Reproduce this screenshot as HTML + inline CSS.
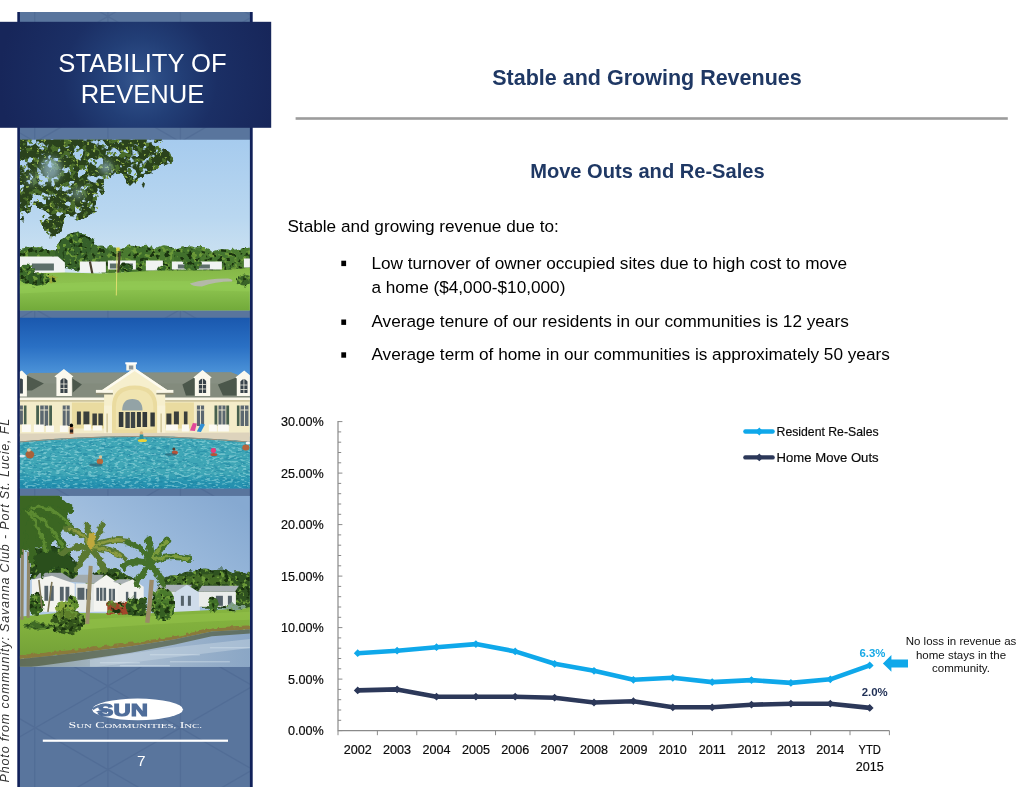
<!DOCTYPE html>
<html lang="en">
<head>
<meta charset="utf-8">
<title>Stability of Revenue</title>
<style>
html,body{margin:0;padding:0;background:#fff;}
body{width:1034px;height:799px;overflow:hidden;font-family:"Liberation Sans",Arial,sans-serif;}
svg{display:block;}
text{font-family:"Liberation Sans",Arial,sans-serif;}
.cal{font-family:"Liberation Sans",Arial,sans-serif;font-size:12.6px;fill:#0a0a0a;stroke:#0a0a0a;stroke-width:0.18px;}
</style>
</head>
<body>
<svg id="slide" width="1034" height="799" viewBox="0 0 1034 799">
<defs>
  <radialGradient id="banner" gradientUnits="userSpaceOnUse" cx="140" cy="80" r="140">
    <stop offset="0" stop-color="#38598f"/>
    <stop offset="0.12" stop-color="#2c4c85"/>
    <stop offset="0.3" stop-color="#223e76"/>
    <stop offset="0.55" stop-color="#1b2f65"/>
    <stop offset="1" stop-color="#17265a"/>
  </radialGradient>
  
  <linearGradient id="sky1" x1="0" y1="0" x2="0" y2="1">
    <stop offset="0" stop-color="#a6cbee"/><stop offset="0.45" stop-color="#b9d7f0"/><stop offset="0.75" stop-color="#cfe3f1"/><stop offset="1" stop-color="#cfe3f1"/>
  </linearGradient>
  <linearGradient id="grass1" x1="0" y1="0" x2="0" y2="171" gradientUnits="userSpaceOnUse">
    <stop offset="0.76" stop-color="#86b848"/><stop offset="0.86" stop-color="#8ec450"/><stop offset="1" stop-color="#72aa3a"/>
  </linearGradient>
  <filter id="rough1" x="-10%" y="-10%" width="120%" height="120%">
    <feTurbulence type="fractalNoise" baseFrequency="0.09" numOctaves="3" seed="4" result="n"/>
    <feDisplacementMap in="SourceGraphic" in2="n" scale="16" xChannelSelector="R" yChannelSelector="G"/>
  </filter>
  <filter id="rough2" x="-10%" y="-10%" width="120%" height="120%">
    <feTurbulence type="fractalNoise" baseFrequency="0.18" numOctaves="2" seed="9" result="n"/>
    <feDisplacementMap in="SourceGraphic" in2="n" scale="6" xChannelSelector="R" yChannelSelector="G"/>
  </filter>

  <filter id="leafA" x="-10%" y="-10%" width="120%" height="120%">
    <feTurbulence type="fractalNoise" baseFrequency="0.09" numOctaves="3" seed="4" result="n"/>
    <feDisplacementMap in="SourceGraphic" in2="n" scale="16" xChannelSelector="R" yChannelSelector="G" result="d"/>
    <feTurbulence type="fractalNoise" baseFrequency="0.11" numOctaves="3" seed="11" result="m"/>
    <feColorMatrix in="m" type="matrix" values="0 0 0 0 0  0 0 0 0 0  0 0 0 0 0  14 0 0 0 -5.3" result="mask"/>
    <feComposite in="d" in2="mask" operator="in"/>
  </filter>
  <filter id="leafB" x="-10%" y="-10%" width="120%" height="120%">
    <feTurbulence type="fractalNoise" baseFrequency="0.09" numOctaves="3" seed="4" result="n"/>
    <feDisplacementMap in="SourceGraphic" in2="n" scale="16" xChannelSelector="R" yChannelSelector="G" result="d"/>
    <feTurbulence type="fractalNoise" baseFrequency="0.16" numOctaves="3" seed="23" result="m"/>
    <feColorMatrix in="m" type="matrix" values="0 0 0 0 0  0 0 0 0 0  0 0 0 0 0  0 12 0 0 -6.9" result="mask"/>
    <feComposite in="d" in2="mask" operator="in"/>
  </filter>
  <filter id="leafC" x="-10%" y="-10%" width="120%" height="120%">
    <feTurbulence type="fractalNoise" baseFrequency="0.09" numOctaves="3" seed="4" result="n"/>
    <feDisplacementMap in="SourceGraphic" in2="n" scale="16" xChannelSelector="R" yChannelSelector="G" result="d"/>
    <feTurbulence type="fractalNoise" baseFrequency="0.3" numOctaves="2" seed="37" result="m"/>
    <feColorMatrix in="m" type="matrix" values="0 0 0 0 0  0 0 0 0 0  0 0 0 0 0  0 0 14 0 -9.2" result="mask"/>
    <feComposite in="d" in2="mask" operator="in"/>
  </filter>

  <linearGradient id="sky2" x1="0" y1="0" x2="0" y2="1">
    <stop offset="0" stop-color="#1a58ae"/><stop offset="0.17" stop-color="#2a70c4"/><stop offset="0.34" stop-color="#4f96da"/><stop offset="1" stop-color="#549bdc"/>
  </linearGradient>
  <linearGradient id="pool2" x1="0" y1="0" x2="0" y2="1">
    <stop offset="0.69" stop-color="#3fa6b6"/><stop offset="0.8" stop-color="#2b98b2"/><stop offset="1" stop-color="#1f89ad"/>
  </linearGradient>
  <filter id="ripple" x="0" y="0" width="100%" height="100%">
    <feTurbulence type="fractalNoise" baseFrequency="0.22 0.5" numOctaves="2" seed="5" result="m"/>
    <feColorMatrix in="m" type="matrix" values="0 0 0 0 0  0 0 0 0 0  0 0 0 0 0  7 0 0 0 -3.7" result="mask"/>
    <feComposite in="SourceGraphic" in2="mask" operator="in"/>
  </filter>

  <linearGradient id="sky3" x1="0.9" y1="0" x2="0.3" y2="0.6">
    <stop offset="0" stop-color="#86a9d1"/><stop offset="0.5" stop-color="#9bbadc"/><stop offset="1" stop-color="#b3cbe4"/>
  </linearGradient>
  <linearGradient id="lawn3" x1="0" y1="112" x2="0" y2="160" gradientUnits="userSpaceOnUse">
    <stop offset="0" stop-color="#86b440"/><stop offset="0.5" stop-color="#7fae3c"/><stop offset="1" stop-color="#74a238"/>
  </linearGradient>
  <linearGradient id="water3" x1="0" y1="0" x2="1" y2="0">
    <stop offset="0" stop-color="#8a9a98"/><stop offset="0.45" stop-color="#aabdd0"/><stop offset="1" stop-color="#8aa6c5"/>
  </linearGradient>
  <filter id="blur3" x="-50%" y="-50%" width="200%" height="200%"><feGaussianBlur stdDeviation="3.5"/></filter>
  <mask id="folmask" maskUnits="userSpaceOnUse" x="-10" y="-10" width="250" height="190">
    <rect x="-10" y="-10" width="250" height="190" fill="#fff"/>
    <g filter="url(#blur3)" fill="#000">
      <ellipse cx="31" cy="30" rx="10" ry="12" opacity="0.6"/>
      <ellipse cx="86" cy="28" rx="5" ry="6" opacity="0.75"/>
      <ellipse cx="58" cy="54" rx="6" ry="5" opacity="0.5"/>
      <ellipse cx="12" cy="40" rx="4" ry="6" opacity="0.4"/>
    </g>
  </mask>
  <filter id="treeTex" x="-10%" y="-10%" width="120%" height="120%" color-interpolation-filters="sRGB">
    <feTurbulence type="fractalNoise" baseFrequency="0.18" numOctaves="2" seed="9" result="n"/>
    <feDisplacementMap in="SourceGraphic" in2="n" scale="6" xChannelSelector="R" yChannelSelector="G" result="d"/>
    <feTurbulence type="fractalNoise" baseFrequency="0.22" numOctaves="2" seed="3" result="m"/>
    <feColorMatrix in="m" type="matrix" values="0 0 0 0 0.42  0 0 0 0 0.60  0 0 0 0 0.22  10 0 0 0 -5.5" result="light"/>
    <feComposite in="light" in2="d" operator="in" result="l2"/>
    <feColorMatrix in="m" type="matrix" values="0 0 0 0 0.1  0 0 0 0 0.2  0 0 0 0 0.06  0 10 0 0 -5.7" result="dark"/>
    <feComposite in="dark" in2="d" operator="in" result="d2"/>
    <feMerge><feMergeNode in="d"/><feMergeNode in="l2"/><feMergeNode in="d2"/></feMerge>
  </filter>
  <filter id="ripple2" x="0" y="0" width="100%" height="100%">
    <feTurbulence type="fractalNoise" baseFrequency="0.16 0.42" numOctaves="2" seed="17" result="m"/>
    <feColorMatrix in="m" type="matrix" values="0 0 0 0 0  0 0 0 0 0  0 0 0 0 0  0 7 0 0 -3.7" result="mask"/>
    <feComposite in="SourceGraphic" in2="mask" operator="in"/>
  </filter>
  <clipPath id="cp1"><rect x="0" y="0" width="230" height="171"/></clipPath>
</defs>
<rect x="0" y="0" width="1034" height="799" fill="#ffffff"/>

<!-- ===== SIDEBAR ===== -->
<g id="sidebar">
  <rect x="17.3" y="12" width="235.4" height="775" fill="#11215a"/>
  <rect x="19.9" y="12" width="230" height="775" fill="#59759d"/>
  <!-- PATTERN -->
  <clipPath id="cps"><rect x="19.9" y="12" width="230" height="775"/></clipPath>
  <path d="M19.9 -201.8L249.9 -69.0M19.9 -100.2L249.9 -233.0M19.9 -118.1L249.9 14.7M19.9 -16.5L249.9 -149.3M19.9 -34.4L249.9 98.4M19.9 67.2L249.9 -65.6M19.9 49.3L249.9 182.1M19.9 150.9L249.9 18.1M19.9 133.0L249.9 265.8M19.9 234.6L249.9 101.8M19.9 216.7L249.9 349.5M19.9 318.3L249.9 185.5M19.9 300.4L249.9 433.2M19.9 402.0L249.9 269.2M19.9 384.1L249.9 516.9M19.9 485.7L249.9 352.9M19.9 467.8L249.9 600.6M19.9 569.4L249.9 436.6M19.9 551.5L249.9 684.3M19.9 653.1L249.9 520.3M19.9 635.2L249.9 768.0M19.9 736.8L249.9 604.0M19.9 718.9L249.9 851.7M19.9 820.5L249.9 687.7M19.9 802.6L249.9 935.4M19.9 904.2L249.9 771.4M19.9 886.3L249.9 1019.1M19.9 987.9L249.9 855.1M19.9 970.0L249.9 1102.8M19.9 1071.6L249.9 938.8M34.7 12V787M107.9 12V787M180.4 12V787" fill="none" stroke="#2d4778" stroke-opacity="0.17" stroke-width="1.3" clip-path="url(#cps)"/>
  <!-- PHOTO1 -->
  <g id="photo1" transform="translate(19.9 139.5)" clip-path="url(#cp1)">
    <rect width="230" height="171" fill="url(#sky1)"/>
    <!-- far tree line -->
    <g filter="url(#treeTex)">
      <path d="M-5 112 Q10 104 30 110 L40 112 L40 134 L-5 134Z" fill="#3f6b2c"/>
      <path d="M80 134 L80 112 Q92 104 100 110 Q108 103 118 108 Q128 104 136 109 Q145 104 154 110 Q165 104 175 108 Q186 106 192 112 Q202 108 212 111 Q222 108 236 108 L236 134Z" fill="#4a7a30"/>
      <ellipse cx="57" cy="112" rx="21" ry="19" fill="#36602a"/>
      <ellipse cx="80" cy="118" rx="12" ry="12" fill="#3f6a2e"/>
      <ellipse cx="168" cy="118" rx="14" ry="10" fill="#41702c"/>
      <ellipse cx="122" cy="117" rx="10" ry="9" fill="#3f6e2b"/>
      <ellipse cx="198" cy="119" rx="9" ry="8" fill="#447430"/>
    </g>
    <!-- houses -->
    <g fill="#f1f3f2">
      <path d="M0 117 L38 117 L45 123 L45 134 L0 134Z"/>
      <rect x="60" y="122" width="26" height="11"/>
      <rect x="88" y="121" width="28" height="9"/>
      <rect x="126" y="121" width="17" height="10"/>
      <rect x="152" y="122" width="50" height="8"/>
      <rect x="224" y="119" width="8" height="9"/>
    </g>
    <g fill="#5d6f6a">
      <rect x="12" y="124" width="22" height="7"/>
      <rect x="90" y="124" width="8" height="5"/>
      <rect x="104" y="124" width="9" height="5"/>
      <rect x="158" y="125" width="8" height="4"/>
      <rect x="176" y="125" width="14" height="4"/>
    </g>
    <!-- mid trees in front of houses -->
    <g filter="url(#treeTex)">
      <ellipse cx="106" cy="128" rx="8" ry="5" fill="#2f5a26"/>
      <ellipse cx="143" cy="130" rx="6" ry="4" fill="#356428"/>
      <ellipse cx="172" cy="124" rx="9" ry="7" fill="#3d6d2c"/>
      <ellipse cx="214" cy="131" rx="6" ry="4" fill="#2f5a26"/>
    </g>
    <path d="M70 122 L73 137 M100 112 L98 136" stroke="#4a4030" stroke-width="2.2" fill="none"/>
    <!-- grass -->
    <path d="M-2 134 L45 133 L80 134 L140 131 L200 131 L232 128 L232 173 L-2 173Z" fill="url(#grass1)"/>
    <path d="M-2 146 Q110 139 232 143 L232 152 Q110 148 -2 154Z" fill="#93cc55" opacity="0.55"/>
    <path d="M170 144 Q186 139 208 139 Q214 140 212 142 Q195 142 182 147 Q172 147 170 144Z" fill="#b4b9a8"/>
    <!-- bushes -->
    <g filter="url(#treeTex)">
      <ellipse cx="6" cy="134" rx="8" ry="10" fill="#3b6a2a"/>
      <ellipse cx="18" cy="140" rx="11" ry="7" fill="#2f5a24"/>
      <ellipse cx="33" cy="139" rx="5" ry="4" fill="#9aa93a"/>
      <ellipse cx="224" cy="141" rx="8" ry="6" fill="#3a6428"/>
    </g>
    <path d="M97.2 110 L96.4 156" stroke="#e8e272" stroke-width="0.9"/>
    <rect x="96.4" y="108" width="3.4" height="3.4" fill="#d6cf3a"/>
    <!-- big foliage -->
    <g mask="url(#folmask)">
    <path id="fol1" d="M-6 -6 L138 -6 L152 20 L150 25 L138 31 L128 33 L119 47 L108 47 L103 36 L92 34 L84 46 L77 57 L77 69 L66 81 L46 79 L38 92 L33 98 L25 92 L21 69 L13 68 L4 78 L-6 77Z" fill="#2a421d" filter="url(#leafA)"/>
    <path d="M-6 -6 L138 -6 L152 20 L150 25 L138 31 L128 33 L119 47 L108 47 L103 36 L92 34 L84 46 L77 57 L77 69 L66 81 L46 79 L38 92 L33 98 L25 92 L21 69 L13 68 L4 78 L-6 77Z" fill="#4a6c2a" filter="url(#leafB)"/>
    <path d="M-6 -6 L138 -6 L152 20 L150 25 L138 31 L128 33 L119 47 L108 47 L103 36 L92 34 L84 46 L77 57 L77 69 L66 81 L46 79 L38 92 L33 98 L25 92 L21 69 L13 68 L4 78 L-6 77Z" fill="#86a542" filter="url(#leafC)"/>
    </g>
</g>
  <!-- /PHOTO1 -->
  <!-- PHOTO2 -->
  <g id="photo2" transform="translate(19.9 317.5)" clip-path="url(#cp1)">
    <rect width="230" height="171" fill="url(#sky2)"/>
    <!-- roof -->
    <path d="M-2 63 L10 55.5 L95 55 L134 55 L211 54.8 L232 63 L232 82 L-2 82Z" fill="#838b7d"/>
    <path d="M-2 63 L10 55.5 L211 54.8 L232 63 L232 66 L-2 66Z" fill="#8b9386" opacity="0.6"/>
    <!-- dormer shadows / side roofs -->
    <path d="M7 58 L24 66 L12 73 L7 73Z" fill="#4f5a4e"/>
    <path d="M52.5 61 L62 67 L53 75Z" fill="#4b574b"/>
    <path d="M174.7 60 L162.5 67 L166 78 L174.7 78Z" fill="#4b574b"/>
    <path d="M216.6 60 L198 67 L203 78 L216.6 78Z" fill="#4b574b"/>
    <!-- dormers -->
    <g fill="#fbf9ee">
      <path d="M-2 55 L2 53 L7 58 L7 79 L-2 79Z"/>
      <path d="M34.5 59 L44 51.5 L53.5 59 L52 60 L52 78.5 L36.5 78.5 L36.5 60Z"/>
      <path d="M173.5 60 L182.6 52.5 L191.8 60 L190.3 61 L190.3 78.5 L175 78.5 L175 61Z"/>
      <path d="M215.5 60 L224.3 53 L233 60 L232 78.5 L217 78.5 L217 61Z"/>
    </g>
    <g fill="#39434a">
      <path d="M-1 62 Q1 60 3 62 L3 76 L-1 76Z"/>
      <path d="M40.5 63 Q44 58 47.6 63 L47.6 75.5 L40.5 75.5Z"/>
      <path d="M179 63.5 Q182.6 58.5 186.2 63.5 L186.2 75.5 L179 75.5Z"/>
      <path d="M220.5 64 Q224 59 227.6 64 L227.6 75.5 L220.5 75.5Z"/>
    </g>
    <path d="M44 59V75.5M182.6 60V75.5M224 60V75.5M40.5 66.5H47.6M40.5 71H47.6M179 67H186M179 71.5H186M220.5 67.5H227.6M220.5 72H227.6" stroke="#f4f2e6" stroke-width="0.8"/>
    <!-- walls -->
    <rect x="-2" y="81" width="234" height="38" fill="#f3ecc9"/>
    <rect x="-2" y="80" width="234" height="2.6" fill="#fbf8ea"/>
    <rect x="-2" y="82.6" width="234" height="1.6" fill="#c9c09a"/>
    <!-- porches -->
    <rect x="52" y="85" width="33" height="26" fill="#e9dba0"/>
    <rect x="145" y="85" width="29" height="26" fill="#e9dba0"/>
    <g fill="#3a3f3c">
      <rect x="57" y="94" width="4" height="13"/><rect x="63.5" y="94" width="6" height="13"/><rect x="72.5" y="96" width="4.5" height="12"/><rect x="78.5" y="96" width="4.5" height="12"/>
      <rect x="146.5" y="96" width="5" height="12"/><rect x="154" y="94" width="5" height="13"/><rect x="164" y="94" width="3.6" height="13"/>
    </g>
    <!-- shuttered windows -->
    <g fill="#47604f">
      <rect x="4" y="88" width="2.6" height="19"/>
      <rect x="16.3" y="88" width="2.8" height="20.5"/><rect x="29.3" y="88" width="2.8" height="20.5"/>
      <rect x="194.6" y="88" width="2.8" height="20.5"/><rect x="206.4" y="88" width="2.8" height="20.5"/>
      <rect x="217" y="88" width="2.6" height="20.5"/>
    </g>
    <g fill="#5b6770">
      <rect x="-1" y="88" width="4" height="19"/>
      <rect x="20.3" y="88" width="8" height="20.5"/>
      <rect x="42.8" y="88" width="7" height="20.5"/>
      <rect x="177" y="88" width="7.2" height="20.5"/>
      <rect x="198.6" y="88" width="7" height="20.5"/>
      <rect x="220.6" y="88" width="8" height="20.5"/>
    </g>
    <path d="M-1 92.5H3M20.3 92.5H28.3M42.8 92.5H49.8M177 92.5H184.2M198.6 92.5H205.6M220.6 92.5H228.6M24.3 88V108.5M46.3 88V108.5M180.6 88V108.5M202.1 88V108.5M224.6 88V108.5" stroke="#f3eed6" stroke-width="0.9"/>
    <!-- central gable -->
    <path d="M81.5 73 L114.7 50.5 L148 73 L146.5 75 L145.3 75 L145.3 116 L84.2 116 L84.2 75 L83 75Z" fill="#f6efcd"/>
    <path d="M81.5 73 L114.7 50.5 L148 73 L146.5 75 L114.7 53.6 L83 75Z" fill="#fdfbf0"/>
    <rect x="76" y="72.4" width="17" height="3" fill="#fbf8ea"/><rect x="136.5" y="72.4" width="17" height="3" fill="#fbf8ea"/>
    <rect x="76" y="75.4" width="17" height="1.6" fill="#8b8a72"/><rect x="136.5" y="75.4" width="17" height="1.6" fill="#8b8a72"/>
    <!-- cupola -->
    <rect x="106.4" y="46.5" width="9.6" height="6.5" fill="#f8f6ea"/><rect x="105.4" y="44.8" width="11.6" height="2" fill="#ffffff"/><rect x="109" y="48" width="4.4" height="4" fill="#8c959a"/>
    <!-- arch -->
    <path d="M92 116 L92 90 Q92 68 114.7 68 Q137.4 68 137.4 90 L137.4 116Z" fill="#eadb9f"/>
    <path d="M96 112 L96 90 Q96 72 114.7 72 Q133.4 72 133.4 90 L133.4 112Z" fill="#f0e4b0"/>
    <path d="M102.3 93 Q102.3 81.5 112.5 81.5 Q122.6 81.5 122.6 93Z" fill="#93a3a6"/>
    <rect x="98.9" y="94.5" width="4.6" height="15" fill="#33393a"/><rect x="105.5" y="94.5" width="4.4" height="16" fill="#3d4446"/><rect x="110.9" y="94.5" width="4.4" height="16" fill="#3d4446"/><rect x="117" y="94.5" width="4" height="15" fill="#33393a"/><rect x="122.6" y="94.5" width="4.6" height="15" fill="#33393a"/><rect x="130.5" y="95" width="4.4" height="14" fill="#33393a"/>
    <rect x="84.2" y="88" width="7.8" height="28" fill="#f8f2d6"/><rect x="137.4" y="88" width="7.9" height="28" fill="#f8f2d6"/>
    <rect x="86.6" y="96" width="1.2" height="19" fill="#c9bd8a"/><rect x="140.6" y="96" width="1.2" height="19" fill="#c9bd8a"/>
    <!-- chairs etc -->
    <g fill="#fbfaf4">
      <rect x="2" y="107" width="9" height="7.5"/><rect x="14" y="107" width="10" height="7.5"/><rect x="26" y="108" width="8" height="6.5"/><rect x="40" y="108" width="8" height="6.5"/><rect x="64" y="107" width="7" height="6"/><rect x="73" y="108" width="9" height="5"/>
      <rect x="146" y="107" width="12" height="6"/><rect x="162" y="107" width="7" height="7"/><rect x="189" y="107" width="8" height="7"/><rect x="198" y="107" width="11" height="7"/>
    </g>
    <path d="M170 113 L173 105.5 L177 106 L175 113.5Z" fill="#e0489a"/><path d="M177 114 L181 106 L185 107 L181 114.5Z" fill="#2e8fd6"/>
    <!-- deck -->
    <path d="M-2 116 L232 115 L232 124.6 Q160 118.6 115 118.8 Q60 119 -2 124.4Z" fill="#ddd3bc"/>
    <!-- pool -->
    <path d="M-2 124.2 Q60 118.8 115 118.6 Q160 118.4 232 124.4 L232 173 L-2 173Z" fill="url(#pool2)"/>
    <path d="M-2 124.2 Q60 118.8 115 118.6 Q160 118.4 232 124.4 L232 173 L-2 173Z" fill="#147a9c" filter="url(#ripple2)" opacity="0.4"/>
    <path d="M-2 124.2 Q60 118.8 115 118.6 Q160 118.4 232 124.4 L232 173 L-2 173Z" fill="#bff0ee" filter="url(#ripple)" opacity="0.38"/>
    <path d="M-2 124.6 Q60 119.2 115 119 Q160 118.8 232 124.8" fill="none" stroke="#9a8f7c" stroke-width="1"/>
    <!-- people -->
    <g>
      <ellipse cx="51.5" cy="108" rx="1.7" ry="2"/><rect x="49.8" y="109.5" width="3.6" height="7" fill="#b5764e"/><rect x="50" y="112" width="3.2" height="3" fill="#222"/>
      <ellipse cx="121.5" cy="115.5" rx="1.7" ry="1.8" fill="#d8b27a"/><rect x="119.8" y="117" width="3.6" height="5" fill="#2d8f9a"/><ellipse cx="122.5" cy="123" rx="4.6" ry="1.5" fill="#e8d23a"/>
      <ellipse cx="10" cy="137" rx="4.4" ry="4" fill="#a8623a"/><ellipse cx="9" cy="132.5" rx="2" ry="1.8" fill="#d8c9a6"/><ellipse cx="2" cy="138.5" rx="3" ry="1.5" fill="#dfe8ee"/>
      <ellipse cx="80" cy="144" rx="3.2" ry="3" fill="#b56a3e"/><ellipse cx="80.6" cy="139.5" rx="1.7" ry="1.7" fill="#d9c59c"/><ellipse cx="76" cy="147.5" rx="7" ry="1.6" fill="#24596a" opacity="0.6"/>
      <ellipse cx="155" cy="135" rx="3" ry="2" fill="#b5533a"/><ellipse cx="154" cy="131.5" rx="1.5" ry="1.5" fill="#5a3a2a"/><ellipse cx="151" cy="137" rx="6" ry="1.3" fill="#24596a" opacity="0.6"/>
      <ellipse cx="193.5" cy="133" rx="2.6" ry="2.4" fill="#e83a78"/><ellipse cx="194" cy="137" rx="3.5" ry="1.6" fill="#b5533a"/>
      <ellipse cx="226" cy="130" rx="3.6" ry="3" fill="#b5643e"/><ellipse cx="228" cy="125.5" rx="2.2" ry="1.6" fill="#f4f4f4"/>
    </g>
</g>
  <!-- /PHOTO2 -->
  <!-- PHOTO3 -->
  <g id="photo3" transform="translate(19.9 495.8)" clip-path="url(#cp1)">
    <rect width="230" height="171" fill="url(#sky3)"/>
    <!-- right tree line -->
    <g filter="url(#treeTex)">
      <path d="M138 92 L140 84 Q150 78 158 80 Q166 72 174 76 Q184 70 192 75 Q202 70 210 76 Q220 74 232 78 L232 112 L138 112Z" fill="#2f5220"/>
      <path d="M150 84 Q160 78 170 82 Q180 76 196 80 Q206 76 214 82 L214 88 L150 90Z" fill="#4a7228" opacity="0.8"/>
      <path d="M74 76 Q90 68 104 78 L118 84 L118 96 L60 96Z" fill="#2f5220"/>
      <path d="M10 56 Q30 46 50 56 L58 70 L58 84 L10 84Z" fill="#24451a"/>
    </g>
    <!-- houses -->
    <g>
      <path d="M12 86 L20 77 L42 77 L56 86Z" fill="#9aa3a6"/>
      <path d="M12 84 L32 80 L54.8 88 L54.8 116 L12 116Z" fill="#f3f3ef"/>
      <path d="M50 86 L58 79 L84 79 L78 88Z" fill="#a2abad"/>
      <path d="M56 88 L74 88 L86.4 79 L100 88.5 L100 116 L56 116Z" fill="#f4f4f0"/>
      <path d="M56 88 L56 116 L74 116 L74 88Z" fill="#e6e9e6"/>
      <path d="M93 86 L99 83.5 L111 83.5 L104 89Z" fill="#a8b0b2"/>
      <path d="M98 90 L112.5 83.5 L123.8 91 L123.8 108 L98 108Z" fill="#f2f2ee"/>
      <path d="M134 96 L140 89 L172.4 89 L166 96Z" fill="#a9b1b6"/>
      <path d="M134 96 L156 96 L156 116 L134 116Z" fill="#dfe6ea"/>
      <path d="M154 97 L167 89 L180 97 L180 116 L154 116Z" fill="#cfdcea"/>
      <path d="M178 96 L182 90 L219 90 L215 96Z" fill="#aab2b6"/>
      <rect x="179" y="96" width="37" height="15" fill="#e9ecea"/>
    </g>
    <g fill="#55626a">
      <rect x="24.5" y="90" width="3.8" height="15"/><rect x="30" y="90" width="3.8" height="15"/><rect x="40" y="91" width="3.8" height="14"/><rect x="45.6" y="91" width="3.8" height="14"/>
      <rect x="57.5" y="92" width="7" height="12"/><rect x="66" y="93" width="5" height="11"/>
      <rect x="76.5" y="92" width="2.6" height="13"/><rect x="80" y="92" width="2.6" height="13"/><rect x="83.6" y="92" width="2.6" height="13"/><rect x="89" y="93" width="2.6" height="12"/><rect x="92.5" y="93" width="2.6" height="12"/>
      <rect x="106" y="96" width="2.4" height="9"/><rect x="114" y="96" width="2.4" height="9"/>
      <rect x="161" y="100" width="3" height="10"/><rect x="168" y="100" width="3" height="10"/>
      <rect x="196" y="100" width="7" height="10"/><rect x="208" y="100" width="4" height="9"/>
    </g>
    <!-- lawn -->
    <path d="M-2 121 L40 117 L120 118 L232 112 L232 133.5 L195 136.5 L160 142.5 L111 150.5 L50 158 L-2 163Z" fill="url(#lawn3)"/>
    <path d="M60 124 Q130 120 232 116 L232 124 Q130 128 60 134Z" fill="#93c24a" opacity="0.6"/>
    <path d="M-2 159.5 L50 154.5 L111 147 L154 140.6 L192 132.6 L232 130.5 L232 134 L192 136.5 L154 144.6 L111 151.5 L50 159 L-2 164.5Z" fill="#8a7a3a" filter="url(#rough2)"/>
    <!-- water -->
    <path d="M-2 163.5 L50 158 L111 150.5 L154 143.6 L192 135.6 L232 133.5 L232 173 L-2 173Z" fill="url(#water3)"/>
    <path d="M-2 163.5 L50 158 L111 150.5 L154 143.6 L192 135.6 L232 133.5 L232 137.5 L192 140.5 L154 149 L111 157 L50 166 L-2 173Z" fill="#4f5a3c" opacity="0.7"/>
    <path d="M70 164 L150 152 L232 143 L232 152 L150 162 L70 172Z" fill="#c3d3e2" opacity="0.5"/>
    <path d="M80 167 h40 M130 159 h50 M150 166 h60 M190 152 h40 M100 170 h50" stroke="#dbe6ef" stroke-width="0.8" opacity="0.7"/>
    <!-- hedges & bushes -->
    <g filter="url(#treeTex)">
      <rect x="86.4" y="106" width="21" height="13" rx="2" fill="#a3452a"/>
      <rect x="88" y="106" width="8" height="5" fill="#5a7a2a" opacity="0.8"/>
      <rect x="106.8" y="102" width="20" height="18" rx="3" fill="#2f5220"/>
      <ellipse cx="143" cy="108" rx="12" ry="16" fill="#4a7a2c"/>
      <ellipse cx="143" cy="116" rx="10" ry="8" fill="#355f22"/>
      <ellipse cx="193" cy="109" rx="5" ry="7" fill="#3f6e28"/>
      <ellipse cx="214" cy="112" rx="12" ry="3.5" fill="#7f9f8a"/>
      <ellipse cx="16" cy="108" rx="8" ry="11" fill="#35601f"/>
      <ellipse cx="52" cy="108" rx="6" ry="8" fill="#5f8c2c"/>
      <ellipse cx="45" cy="112" rx="9" ry="6" fill="#86a63a"/>
      <ellipse cx="48" cy="126" rx="16.5" ry="12.5" fill="#34551c"/>
      <ellipse cx="47" cy="119" rx="12" ry="5" fill="#5d7f2a"/>
      <path d="M6 128 Q22 124 34 132 Q20 136 4 132Z" fill="#2f5a20" opacity="0.8"/>
    </g>
    <!-- trunks -->
    <path d="M2.5 50 L2 124 M8.8 56 L8.2 122" stroke="#8f8668" stroke-width="3.2" fill="none"/>
    <path d="M19 84 L22 112 M32 86 L28 116" stroke="#7d7658" stroke-width="1.6" fill="none"/>
    <path d="M70.8 70 Q69 100 67.3 128" stroke="#9a8f6c" stroke-width="4" fill="none"/>
    <path d="M131.8 84 Q130.5 106 127.4 127" stroke="#9a8a68" stroke-width="4.4" fill="none"/>
    <!-- palm fronds -->
    <g filter="url(#rough2)" fill="none" stroke-linecap="round">
      <path d="M-2 -2 L38 -2 Q50 10 48 26 L36 44 L20 52 L-2 56Z" fill="#3a6622" stroke="none"/>
      <g stroke="#3a6622" stroke-width="8">
        <path d="M10 14 Q34 10 54 36"/><path d="M10 16 Q34 26 46 58"/><path d="M8 18 Q26 36 30 68"/><path d="M6 18 Q14 40 12 64"/><path d="M4 18 Q0 40 -2 58"/>
        <path d="M14 8 Q36 0 50 14"/>
      </g>
      <g stroke="#5c8a30" stroke-width="3.2">
        <path d="M12 12 Q32 8 50 30"/><path d="M10 16 Q30 26 42 50"/><path d="M8 16 Q22 32 27 58"/>
      </g>
      <path d="M14 60 Q30 52 46 58 Q56 66 57 78 Q44 70 34 72 Q26 76 22 84 Q18 72 14 60Z" fill="#29501c" stroke="none"/>
      <g stroke="#5a7830" stroke-width="6">
        <path d="M72 50 Q60 34 46 32"/><path d="M72 52 Q54 48 42 58"/><path d="M72 54 Q60 60 57 74"/><path d="M72 54 Q80 62 84 75"/>
        <path d="M73 52 Q92 52 105 63"/><path d="M73 50 Q92 42 107 45"/><path d="M73 48 Q80 36 83 28"/><path d="M72 48 Q70 36 66 29"/>
      </g>
      <g stroke="#8a9a40" stroke-width="2.6">
        <path d="M73 50 Q90 43 104 45"/><path d="M72 50 Q61 36 49 33"/><path d="M73 52 Q90 53 102 61"/>
      </g>
      <path d="M69 38 Q75 34 75 50 Q71 60 68 50Z" fill="#bfa83e" stroke="none"/>
      <g stroke="#44702a" stroke-width="6.4">
        <path d="M131 66 Q122 50 108 47"/><path d="M131 68 Q114 62 104 71"/><path d="M131 70 Q120 76 117 88"/><path d="M131 70 Q140 78 143 88"/>
        <path d="M132 66 Q150 58 170 63"/><path d="M132 64 Q142 52 147 44"/><path d="M131 64 Q132 52 128 44"/>
      </g>
      <g stroke="#7c9c3c" stroke-width="2.8">
        <path d="M134 64 Q152 58 168 63"/><path d="M132 62 Q141 52 146 46"/>
      </g>
    </g>
</g>
  <!-- /PHOTO3 -->
  <!-- LOGO -->
  <g id="logo">
    <ellipse cx="137.6" cy="709.4" rx="45.4" ry="10.8" fill="#ffffff"/>
    <text x="97.6" y="715.9" font-size="16.5" font-weight="bold" fill="#4f6d9a" stroke="#4f6d9a" stroke-width="1" textLength="50.4" lengthAdjust="spacingAndGlyphs">SUN</text>
    <path d="M91.5 708.6 Q96 704.6 104 703.9 L104 706.6 Q97.5 706.8 93.6 710Z" fill="#59759d"/>
    <path d="M95.4 712 Q100 709.4 107 710.4 L107 713 Q100 712 95.4 712Z" fill="#4f6d9a"/>
    <text x="135.2" y="728" font-size="7.6" fill="#ffffff" text-anchor="middle" style="font-family:'Liberation Serif','Times New Roman',serif" textLength="133.6" lengthAdjust="spacingAndGlyphs">S<tspan font-size="5.9">UN</tspan> C<tspan font-size="5.9">OMMUNITIES,</tspan> I<tspan font-size="5.9">NC.</tspan></text>
    <rect x="42.8" y="739.6" width="185.2" height="2.2" fill="#ffffff"/>
    <text x="141.4" y="766.2" font-size="15.4" fill="#ffffff" text-anchor="middle">7</text>
  </g>
  <!-- /LOGO -->
</g>

<!-- ===== BANNER ===== -->
<g id="bannerbox">
  <rect x="0" y="21.8" width="271.2" height="106" fill="url(#banner)"/>
  <text x="142.5" y="72.2" font-size="25.6" fill="#ffffff" text-anchor="middle">STABILITY OF</text>
  <text x="142.5" y="103.2" font-size="25.6" fill="#ffffff" text-anchor="middle">REVENUE</text>
</g>

<!-- rotated caption -->
<text transform="translate(9.4 782.4) rotate(-90)" font-size="12.5" font-style="italic" fill="#333" textLength="363.5" lengthAdjust="spacing">Photo from community: Savanna Club - Port St. Lucie, FL</text>

<!-- ===== HEADINGS ===== -->
<text x="647" y="85.2" font-size="21.5" font-weight="bold" fill="#1f3864" text-anchor="middle">Stable and Growing Revenues</text>
<rect x="295.6" y="117.2" width="712.2" height="2.6" fill="#9c9c9c"/>
<text x="647.4" y="177.9" font-size="20.1" font-weight="bold" fill="#1f3864" text-anchor="middle">Move Outs and Re-Sales</text>

<!-- ===== BODY ===== -->
<g font-size="17.2" fill="#000">
  <text x="287.4" y="232.3">Stable and growing revenue due to:</text>
  <rect x="341.3" y="260.7" width="4.8" height="5.4"/>
  <text x="371.4" y="268.8">Low turnover of owner occupied sites due to high cost to move</text>
  <text x="371.4" y="293.4">a home ($4,000-$10,000)</text>
  <rect x="341.3" y="319.5" width="4.8" height="5.4"/>
  <text x="371.4" y="327.3">Average tenure of our residents in our communities is 12 years</text>
  <rect x="341.3" y="352.3" width="4.8" height="5.4"/>
  <text x="371.4" y="360.3">Average term of home in our communities is approximately 50 years</text>
</g>

<!-- ===== CHART ===== -->
<g id="chart">
  <!-- CHARTBODY -->
  <path d="M338.0 421.1V730.6H889.4" fill="none" stroke="#8a8a8a" stroke-width="1.2"/>
  <path d="M338.0 730.60h4.4M338.0 720.30h3.2M338.0 710.00h3.2M338.0 699.70h3.2M338.0 689.40h3.2M338.0 679.10h4.4M338.0 668.80h3.2M338.0 658.50h3.2M338.0 648.20h3.2M338.0 637.90h3.2M338.0 627.60h4.4M338.0 617.30h3.2M338.0 607.00h3.2M338.0 596.70h3.2M338.0 586.40h3.2M338.0 576.10h4.4M338.0 565.80h3.2M338.0 555.50h3.2M338.0 545.20h3.2M338.0 534.90h3.2M338.0 524.60h4.4M338.0 514.30h3.2M338.0 504.00h3.2M338.0 493.70h3.2M338.0 483.40h3.2M338.0 473.10h4.4M338.0 462.80h3.2M338.0 452.50h3.2M338.0 442.20h3.2M338.0 431.90h3.2M338.0 421.60h4.4" fill="none" stroke="#8a8a8a" stroke-width="1"/>
  <path d="M338.00 730.6v4.6M377.39 730.6v4.6M416.77 730.6v4.6M456.16 730.6v4.6M495.54 730.6v4.6M534.93 730.6v4.6M574.31 730.6v4.6M613.70 730.6v4.6M653.09 730.6v4.6M692.47 730.6v4.6M731.86 730.6v4.6M771.24 730.6v4.6M810.63 730.6v4.6M850.01 730.6v4.6M889.40 730.6v4.6" fill="none" stroke="#8a8a8a" stroke-width="1"/>
  <text class="cal" x="323.6" y="735.0" text-anchor="end">0.00%</text>
  <text class="cal" x="323.6" y="683.5" text-anchor="end">5.00%</text>
  <text class="cal" x="323.6" y="632.0" text-anchor="end">10.00%</text>
  <text class="cal" x="323.6" y="580.5" text-anchor="end">15.00%</text>
  <text class="cal" x="323.6" y="529.0" text-anchor="end">20.00%</text>
  <text class="cal" x="323.6" y="477.5" text-anchor="end">25.00%</text>
  <text class="cal" x="323.6" y="426.0" text-anchor="end">30.00%</text>
  <text class="cal" x="357.7" y="753.8" text-anchor="middle">2002</text>
  <text class="cal" x="397.1" y="753.8" text-anchor="middle">2003</text>
  <text class="cal" x="436.5" y="753.8" text-anchor="middle">2004</text>
  <text class="cal" x="475.9" y="753.8" text-anchor="middle">2005</text>
  <text class="cal" x="515.2" y="753.8" text-anchor="middle">2006</text>
  <text class="cal" x="554.6" y="753.8" text-anchor="middle">2007</text>
  <text class="cal" x="594.0" y="753.8" text-anchor="middle">2008</text>
  <text class="cal" x="633.4" y="753.8" text-anchor="middle">2009</text>
  <text class="cal" x="672.8" y="753.8" text-anchor="middle">2010</text>
  <text class="cal" x="712.2" y="753.8" text-anchor="middle">2011</text>
  <text class="cal" x="751.5" y="753.8" text-anchor="middle">2012</text>
  <text class="cal" x="790.9" y="753.8" text-anchor="middle">2013</text>
  <text class="cal" x="830.3" y="753.8" text-anchor="middle">2014</text>
  <text class="cal" x="869.7" y="753.8" text-anchor="middle" textLength="22.4" lengthAdjust="spacingAndGlyphs">YTD</text>
  <text class="cal" x="869.7" y="770.9" text-anchor="middle">2015</text>
  <polyline points="357.7,690.4 397.1,689.4 436.5,696.7 475.9,696.7 515.2,696.7 554.6,697.7 594.0,702.5 633.4,701.2 672.8,707.3 712.2,707.3 751.5,704.7 790.9,703.7 830.3,703.7 869.7,707.9" fill="none" stroke="#2c3859" stroke-width="4.6" stroke-linejoin="round" stroke-linecap="round"/><path d="M353.8 690.4l3.9 -3.9l3.9 3.9l-3.9 3.9zM393.2 689.4l3.9 -3.9l3.9 3.9l-3.9 3.9zM432.6 696.7l3.9 -3.9l3.9 3.9l-3.9 3.9zM472.0 696.7l3.9 -3.9l3.9 3.9l-3.9 3.9zM511.3 696.7l3.9 -3.9l3.9 3.9l-3.9 3.9zM550.7 697.7l3.9 -3.9l3.9 3.9l-3.9 3.9zM590.1 702.5l3.9 -3.9l3.9 3.9l-3.9 3.9zM629.5 701.2l3.9 -3.9l3.9 3.9l-3.9 3.9zM668.9 707.3l3.9 -3.9l3.9 3.9l-3.9 3.9zM708.3 707.3l3.9 -3.9l3.9 3.9l-3.9 3.9zM747.6 704.7l3.9 -3.9l3.9 3.9l-3.9 3.9zM787.0 703.7l3.9 -3.9l3.9 3.9l-3.9 3.9zM826.4 703.7l3.9 -3.9l3.9 3.9l-3.9 3.9zM865.8 707.9l3.9 -3.9l3.9 3.9l-3.9 3.9z" fill="#2c3859"/>
  <polyline points="357.7,653.2 397.1,650.7 436.5,647.2 475.9,644.1 515.2,651.4 554.6,663.8 594.0,670.8 633.4,679.8 672.8,677.8 712.2,682.1 751.5,680.1 790.9,682.9 830.3,679.3 869.7,665.4" fill="none" stroke="#0fa8ea" stroke-width="4.6" stroke-linejoin="round" stroke-linecap="round"/><path d="M353.8 653.2l3.9 -3.9l3.9 3.9l-3.9 3.9zM393.2 650.7l3.9 -3.9l3.9 3.9l-3.9 3.9zM432.6 647.2l3.9 -3.9l3.9 3.9l-3.9 3.9zM472.0 644.1l3.9 -3.9l3.9 3.9l-3.9 3.9zM511.3 651.4l3.9 -3.9l3.9 3.9l-3.9 3.9zM550.7 663.8l3.9 -3.9l3.9 3.9l-3.9 3.9zM590.1 670.8l3.9 -3.9l3.9 3.9l-3.9 3.9zM629.5 679.8l3.9 -3.9l3.9 3.9l-3.9 3.9zM668.9 677.8l3.9 -3.9l3.9 3.9l-3.9 3.9zM708.3 682.1l3.9 -3.9l3.9 3.9l-3.9 3.9zM747.6 680.1l3.9 -3.9l3.9 3.9l-3.9 3.9zM787.0 682.9l3.9 -3.9l3.9 3.9l-3.9 3.9zM826.4 679.3l3.9 -3.9l3.9 3.9l-3.9 3.9zM865.8 665.4l3.9 -3.9l3.9 3.9l-3.9 3.9z" fill="#0fa8ea"/>
  <path d="M745.4 431.5H772.6" stroke="#0fa8ea" stroke-width="4.4" stroke-linecap="round" fill="none"/><path d="M755.4 431.5l3.9 -3.9l3.9 3.9l-3.9 3.9z" fill="#0fa8ea"/><text class="cal" x="776.6" y="435.8" textLength="102" lengthAdjust="spacingAndGlyphs">Resident Re-Sales</text>
  <path d="M745.4 457.4H772.6" stroke="#2c3859" stroke-width="4.4" stroke-linecap="round" fill="none"/><path d="M755.4 457.4l3.9 -3.9l3.9 3.9l-3.9 3.9z" fill="#2c3859"/><text class="cal" x="776.6" y="461.6" textLength="102" lengthAdjust="spacingAndGlyphs">Home Move Outs</text>
  <text x="859.5" y="657.2" font-size="11.4" font-weight="bold" fill="#17a9e6">6.3%</text>
  <text x="861.7" y="696" font-size="11.4" font-weight="bold" fill="#1f2f55">2.0%</text>
  <path d="M882.9 663.4L891.4 655.1V659.4H908V667.4H891.4V671.7Z" fill="#0fa8ea"/>
  <g font-size="11.5" fill="#111" text-anchor="middle"><text x="961" y="645.2">No loss in revenue as</text><text x="961" y="659">home stays in the</text><text x="961" y="672.4">community.</text></g>
  <!-- /CHARTBODY -->
</g>
</svg>
</body>
</html>
